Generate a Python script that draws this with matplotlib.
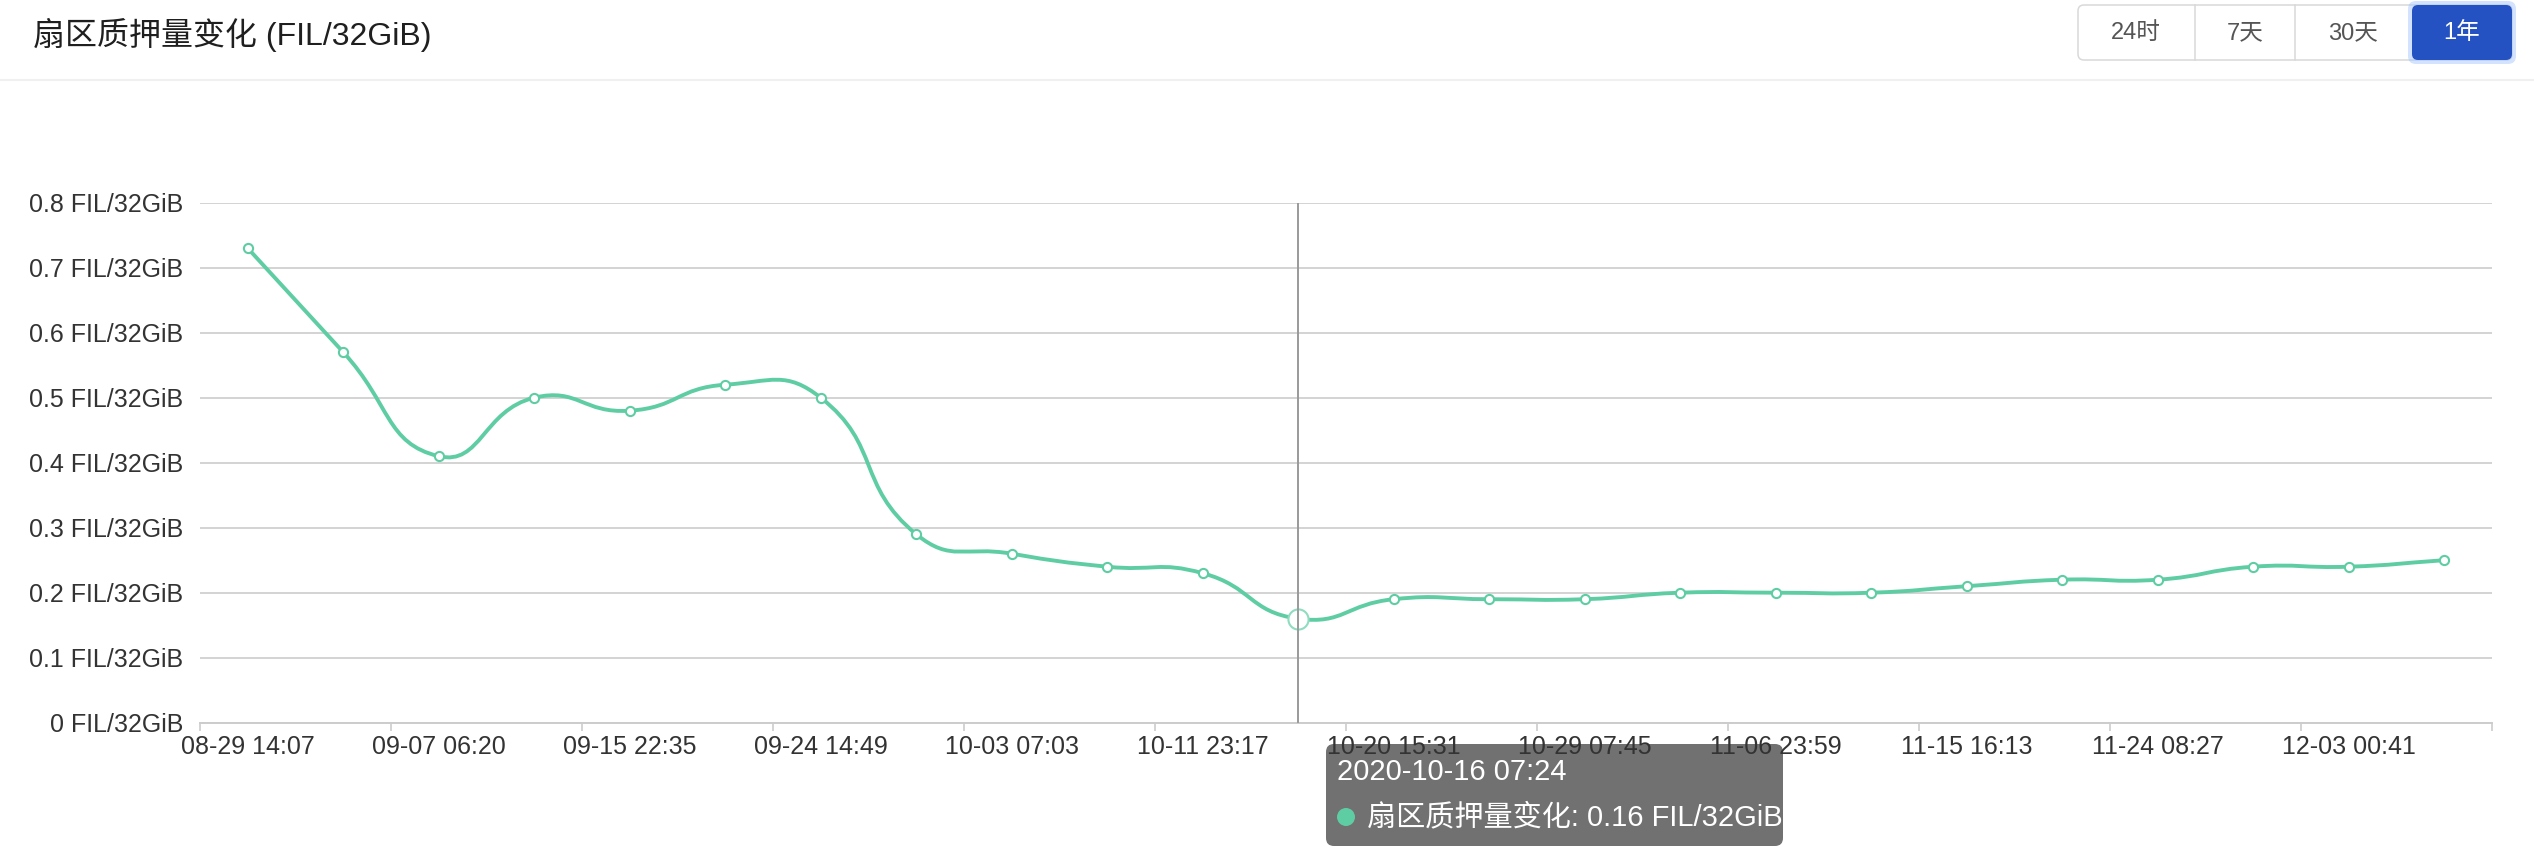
import numpy as np
import matplotlib
matplotlib.use('Agg')
import matplotlib.pyplot as plt
from matplotlib.path import Path
from matplotlib.patches import PathPatch, FancyBboxPatch, Circle
from matplotlib.lines import Line2D
from matplotlib.transforms import IdentityTransform

plt.rcParams['font.family'] = ['Liberation Sans', 'Noto Sans CJK SC']

title = '扇区质押量变化 (FIL/32GiB)'
buttons = ['24时', '7天', '30天', '1年']

dates = ['08-29 14:07', '09-02 22:13', '09-07 06:20', '09-11 14:27',
         '09-15 22:35', '09-20 06:42', '09-24 14:49', '09-28 22:56',
         '10-03 07:03', '10-07 15:10', '10-11 23:17', '10-16 07:24',
         '10-20 15:31', '10-24 23:38', '10-29 07:45', '11-02 15:52',
         '11-06 23:59', '11-11 08:06', '11-15 16:13', '11-20 00:20',
         '11-24 08:27', '11-28 16:34', '12-03 00:41', '12-07 08:48']
values = [0.73, 0.57, 0.41, 0.50, 0.48, 0.52, 0.50, 0.29,
          0.26, 0.24, 0.23, 0.16, 0.19, 0.19, 0.19, 0.20,
          0.20, 0.20, 0.21, 0.22, 0.22, 0.24, 0.24, 0.25]
y_ticks = [0, 0.1, 0.2, 0.3, 0.4, 0.5, 0.6, 0.7, 0.8]
y_labels = ['0 FIL/32GiB', '0.1 FIL/32GiB', '0.2 FIL/32GiB', '0.3 FIL/32GiB',
            '0.4 FIL/32GiB', '0.5 FIL/32GiB', '0.6 FIL/32GiB', '0.7 FIL/32GiB',
            '0.8 FIL/32GiB']
hover_idx = 11
hover_time = '2020-10-16 07:24'

green = '#5fcda4'
W, H = 2534, 848

fig = plt.figure(figsize=(W / 100, H / 100), dpi=100)
px = IdentityTransform()


def fx(p):
    return p / W


def fy(p):
    return 1 - p / H


ax = fig.add_axes([fx(200), fy(722.7), fx(2492) - fx(200), fy(202.7) - fy(722.7)])
ax.set_facecolor('none')
n = len(values)
x = np.arange(n)

# echarts-like smooth curve (control points in pixel space)
sx, sy = 95.5, 650.0
P = np.column_stack([x * sx, np.array(values) * sy])
cin, cout = [], []
for i in range(n):
    prev = P[max(i - 1, 0)]
    nxt = P[min(i + 1, n - 1)]
    v = (nxt - prev) * 0.5
    d0 = np.hypot(*(P[i] - prev))
    d1 = np.hypot(*(nxt - P[i]))
    s = d0 + d1
    if s:
        d0, d1 = d0 / s, d1 / s
    cin.append(P[i] - v * d0)
    cout.append(P[i] + v * d1)
verts = [P[0]]
codes = [Path.MOVETO]
for i in range(n - 1):
    verts += [cout[i], cin[i + 1], P[i + 1]]
    codes += [Path.CURVE4] * 3
verts = np.array(verts) / [sx, sy]
ax.add_patch(PathPatch(Path(verts, codes), fill=False, ec=green, lw=2.8,
                       capstyle='round', joinstyle='round', zorder=3))

mask = x != hover_idx
ax.plot(x[mask], np.array(values)[mask], 'o', ls='none', ms=6.6, mfc='white',
        mec=green, mew=1.5, zorder=4)
ax.axvline(hover_idx, color='#9a9a9a', lw=1.4, zorder=5)
ax.plot(hover_idx, values[hover_idx], 'o', ms=14.5, mfc='white', mec='#8fdcc0',
        mew=1.5, zorder=4)

ax.set_xlim(-0.5, n - 0.5)
ax.set_ylim(0, 0.8)
ax.set_xticks(x[::2], [dates[i] for i in x[::2]])
ax.set_xticks(np.arange(-0.5, n, 2), minor=True)
ax.tick_params(axis='x', which='major', length=0, pad=8.5, labelsize=18, labelcolor='#333333')
ax.tick_params(axis='x', which='minor', length=5.8, width=1.2, color='#cccccc')
ax.set_yticks(y_ticks, y_labels)
ax.tick_params(axis='y', length=0, pad=12, labelsize=18, labelcolor='#333333')
ax.grid(axis='y', color='#cccccc', lw=1.2)
ax.set_axisbelow(True)
for s in ['top', 'right', 'left']:
    ax.spines[s].set_visible(False)
ax.spines['bottom'].set_color('#cccccc')
ax.spines['bottom'].set_linewidth(1.4)

# header
fig.text(fx(33), fy(35), title, fontsize=23, color='#1f1f1f', va='center', ha='left')
fig.add_artist(Line2D([0, 1], [fy(80), fy(80)], color='#f0f0f0', lw=1.5))

fig.add_artist(FancyBboxPatch((2078, H - 60), 434, 55, boxstyle='round,pad=0,rounding_size=6',
                              fc='white', ec='#d9d9d9', lw=1.1, transform=px))
for bx in [2195, 2295]:
    fig.add_artist(Line2D([bx, bx], [H - 60, H - 5], color='#d9d9d9', lw=1.1, transform=px))
fig.add_artist(FancyBboxPatch((2408, H - 64), 108, 63, boxstyle='round,pad=0,rounding_size=8',
                              fc='#9ec2ff', ec='none', alpha=0.45, transform=px))
fig.add_artist(FancyBboxPatch((2412, H - 60), 100, 55, boxstyle='round,pad=0,rounding_size=6',
                              fc='#2452c2', ec='none', transform=px))
centers = [2136, 2245, 2353, 2462]
for label, cx in zip(buttons, centers):
    fig.text(fx(cx), fy(33), label, fontsize=17, ha='center', va='center',
             color='white' if label == buttons[-1] else '#555555')

# tooltip (box sits under the axis labels, text on top)
fig.add_artist(FancyBboxPatch((1326, H - 846), 457, 102, boxstyle='round,pad=0,rounding_size=8',
                              fc='#6b6b6b', ec='none', alpha=0.96, transform=px, zorder=-1))
fig.text(fx(1337), fy(772), hover_time, fontsize=21, color='white', va='center', ha='left', zorder=11)
fig.add_artist(Circle((1346, H - 817), 9, fc=green, ec='none', transform=px, zorder=11))
fig.text(fx(1367), fy(817), '扇区质押量变化: %.2f FIL/32GiB' % values[hover_idx],
         fontsize=21, color='white', va='center', ha='left', zorder=11)

fig.savefig('out.png', dpi=100, facecolor='white')
